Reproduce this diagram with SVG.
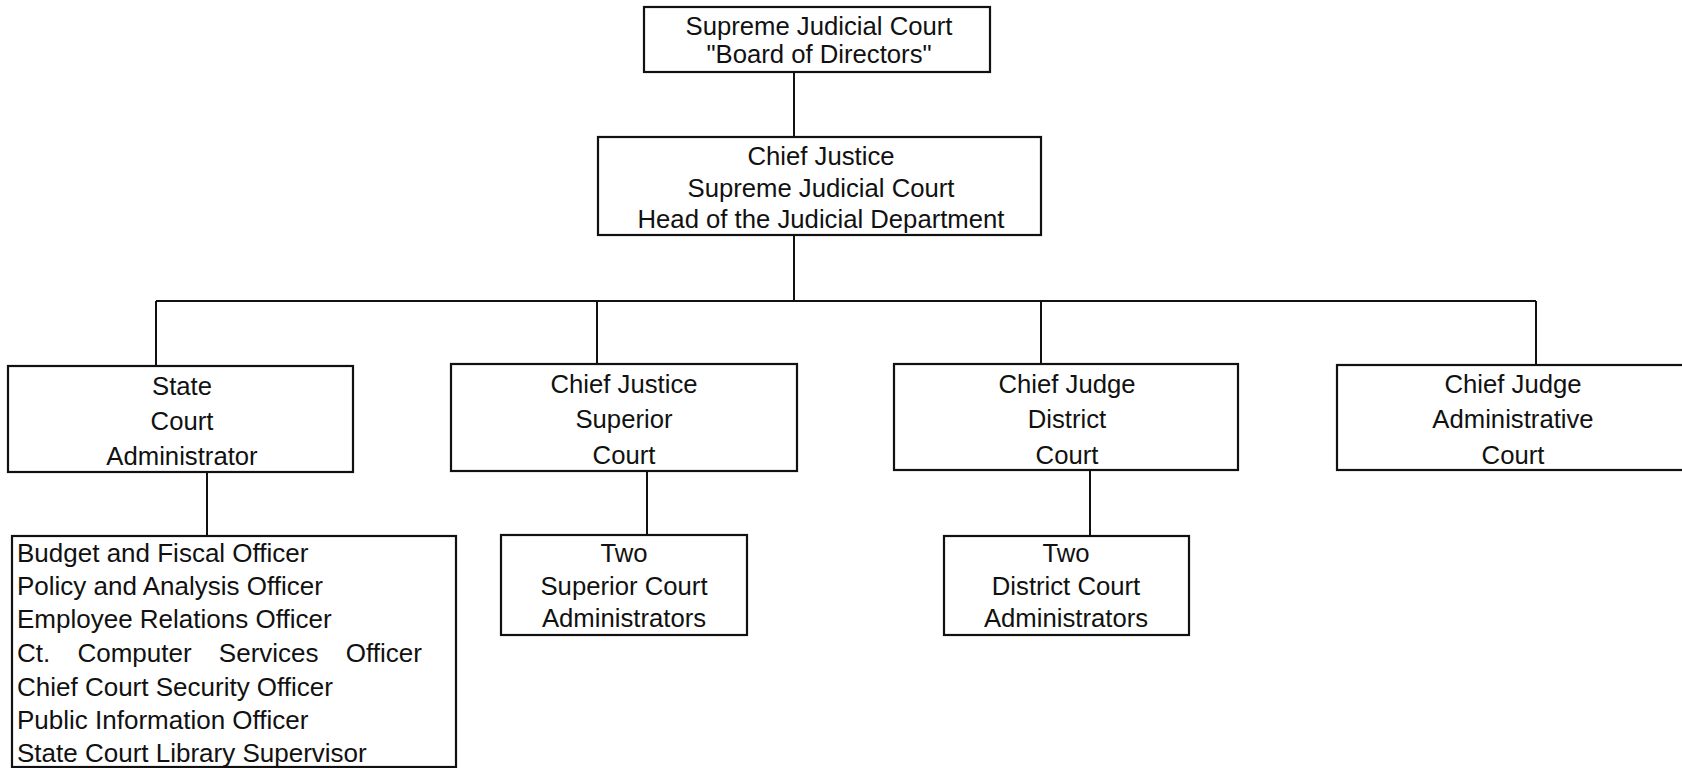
<svg xmlns="http://www.w3.org/2000/svg" width="1682" height="768" viewBox="0 0 1682 768">
<style>
.box{fill:#fff;stroke:#111;stroke-width:2.2}
.c{fill:none;stroke:#111;stroke-width:2}
text{font-family:"Liberation Sans",Arial,sans-serif;font-size:25.7px;fill:#111}
.m{text-anchor:middle}
.l{font-size:26px}
</style>
<rect width="1682" height="768" fill="#fff"/>
<g id="connectors">
<path class="c" d="M794 72V137M794 235V301M156 301H1536M156 301V366M597 301V364M1041 301V364M1536 301V365M207 472V536M647 471V535M1090 470V536"/>
</g>
<g id="board">
<rect class="box" x="644" y="7" width="346" height="65"/>
<text class="m" x="819" y="35">Supreme Judicial Court</text>
<text class="m" x="819" y="63">"Board of Directors"</text>
</g>
<g id="chief-justice">
<rect class="box" x="598" y="137" width="443" height="98"/>
<text class="m" x="821" y="165">Chief Justice</text>
<text class="m" x="821" y="197">Supreme Judicial Court</text>
<text class="m" x="821" y="228">Head of the Judicial Department</text>
</g>
<g id="state-admin">
<rect class="box" x="8" y="366" width="345" height="106"/>
<text class="m" x="182" y="395">State</text>
<text class="m" x="182" y="430">Court</text>
<text class="m" x="182" y="465">Administrator</text>
</g>
<g id="superior">
<rect class="box" x="451" y="364" width="346" height="107"/>
<text class="m" x="624" y="393">Chief Justice</text>
<text class="m" x="624" y="428">Superior</text>
<text class="m" x="624" y="464">Court</text>
</g>
<g id="district">
<rect class="box" x="894" y="364" width="344" height="106"/>
<text class="m" x="1067" y="393">Chief Judge</text>
<text class="m" x="1067" y="428">District</text>
<text class="m" x="1067" y="464">Court</text>
</g>
<g id="administrative">
<rect class="box" x="1337" y="365" width="360" height="105"/>
<text class="m" x="1513" y="393">Chief Judge</text>
<text class="m" x="1513" y="428">Administrative</text>
<text class="m" x="1513" y="464">Court</text>
</g>
<g id="officers">
<rect class="box" x="12" y="536" width="444" height="231"/>
<text class="l" x="17" y="562">Budget and Fiscal Officer</text>
<text class="l" x="17" y="595">Policy and Analysis Officer</text>
<text class="l" x="17" y="628">Employee Relations Officer</text>
<text class="l" x="17" y="662" word-spacing="20">Ct. Computer Services Officer</text>
<text class="l" x="17" y="696">Chief Court Security Officer</text>
<text class="l" x="17" y="729">Public Information Officer</text>
<text class="l" x="17" y="762">State Court Library Supervisor</text>
</g>
<g id="superior-admins">
<rect class="box" x="501" y="535" width="246" height="100"/>
<text class="m" x="624" y="562">Two</text>
<text class="m" x="624" y="595">Superior Court</text>
<text class="m" x="624" y="627">Administrators</text>
</g>
<g id="district-admins">
<rect class="box" x="944" y="536" width="245" height="99"/>
<text class="m" x="1066" y="562">Two</text>
<text class="m" x="1066" y="595">District Court</text>
<text class="m" x="1066" y="627">Administrators</text>
</g>
</svg>
